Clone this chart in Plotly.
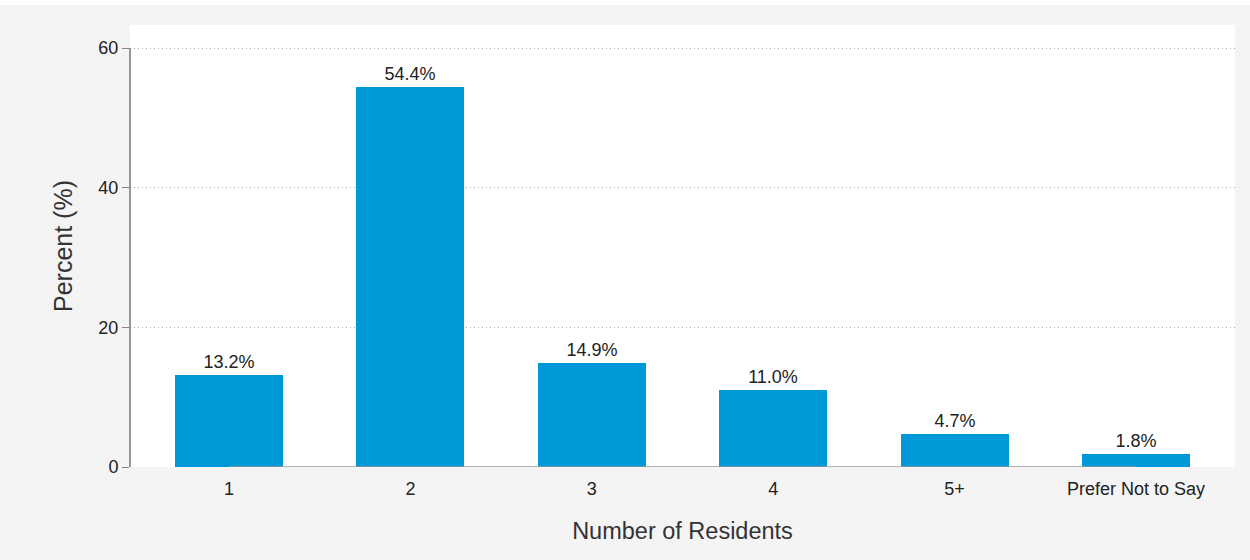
import plotly.graph_objects as go

categories = ["1", "2", "3", "4", "5+", "Prefer Not to Say"]
percent = [13.2, 54.4, 14.9, 11.0, 4.7, 1.8]
y_ticks = [0, 20, 40, 60]

bar_color = "#0099D8"
text_color = "#222222"
page_bg = "#F4F4F4"
font_family = "Liberation Sans, Arial"

fig = go.Figure(
    go.Bar(
        x=list(range(len(categories))),
        y=percent,
        width=0.595,
        marker=dict(color=bar_color, line=dict(width=0)),
        text=[f"{v:.1f}%" for v in percent],
        textposition="outside",
        textfont=dict(size=18, color=text_color, family=font_family),
        cliponaxis=False,
        hoverinfo="skip",
    )
)

fig.update_layout(
    width=1250,
    height=560,
    margin=dict(l=130, r=15, t=25, b=93),
    paper_bgcolor=page_bg,
    plot_bgcolor="white",
    font=dict(family=font_family, size=18, color=text_color),
    showlegend=False,
    bargap=0,
)

fig.update_xaxes(
    range=[-0.546, len(categories) - 1 + 0.546],
    tickmode="array",
    tickvals=list(range(len(categories))),
    ticktext=categories,
    ticks="",
    ticklabelstandoff=9,
    showgrid=False,
    zeroline=False,
    showline=False,
    tickfont=dict(size=18, color=text_color),
    title=dict(text="Number of Residents", font=dict(size=23.5, color="#333333"), standoff=24),
    automargin=False,
)

fig.update_yaxes(
    range=[0, 63.3],
    tickmode="array",
    tickvals=y_ticks,
    ticks="outside",
    ticklen=7,
    tickwidth=1,
    tickcolor="#888888",
    showgrid=True,
    gridcolor="#AAAAAA",
    griddash="1px,3px",
    gridwidth=1,
    zeroline=False,
    showline=False,
    tickfont=dict(size=18, color=text_color),
    title=dict(text="Percent (%)", font=dict(size=25, color="#333333"), standoff=18),
    automargin=False,
)

# Thin white strip along the top edge of the page
fig.add_shape(
    type="rect", xref="paper", yref="paper",
    x0=-130 / 1105, x1=1120 / 1105, y0=1 + 20 / 442, y1=1 + 26 / 442,
    fillcolor="white", line=dict(width=0), layer="below",
)

# Y axis line spanning the tick range only
fig.add_shape(
    type="line", xref="paper", yref="y",
    x0=0, x1=0, y0=0, y1=y_ticks[-1],
    line=dict(color="#555555", width=1.2), layer="above",
)

# X axis line from the first to the last category
fig.add_shape(
    type="line", xref="x", yref="y",
    x0=0, x1=len(categories) - 1, y0=0, y1=0,
    line=dict(color="#999999", width=1.5), layer="above",
)

fig.write_html("out.html")
